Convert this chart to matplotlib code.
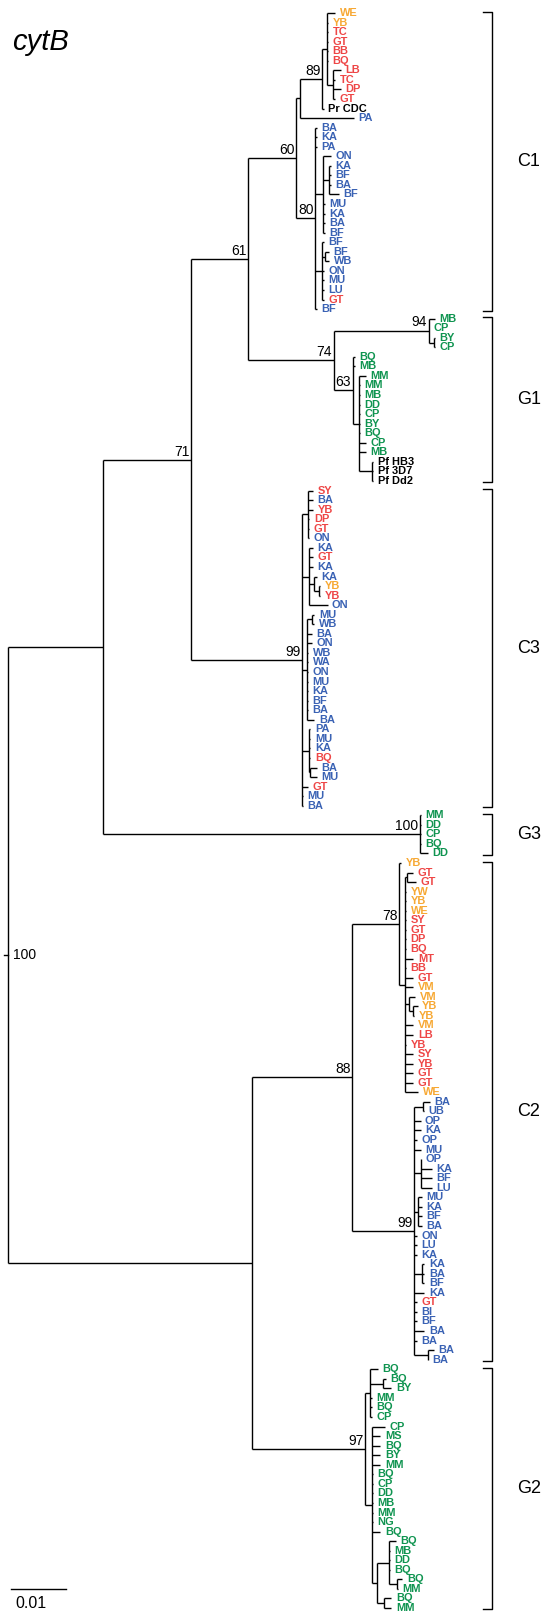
import matplotlib
matplotlib.use('Agg')
import matplotlib.pyplot as plt
from matplotlib.transforms import blended_transform_factory

### DATA ###
# cytB tree, branch lengths in substitutions/site, node labels = bootstrap support
C1 = ("((((WE:0.0015,YB:0.0002,TC:0.0002,GT:0.0002,BB:0.0002,BQ:0.0002,"
      "(LB:0.0015,TC:0.0004,DP:0.0015,GT:0.0004):0.0011):0.0009,Pr_CDC:0.0003)89:0.0040,PA:0.0098):0.0007,"
      "(BA:0.0002,KA:0.0002,PA:0.0002,"
      "(ON:0.0015,(KA:0.0004,BF:0.0004,BA:0.0004,BF:0.0018):0.0011,MU:0.0004,KA:0.0004,BA:0.0004,BF:0.0004):0.0013,"
      "(BF:0.0004,(BF:0.0007,WB:0.0007):0.0007,ON:0.0004,MU:0.0004,LU:0.0004,GT:0.0004):0.0011,"
      "BF:0.0002)80:0.0035)60:0.0087")
G1 = ("((MB:0.0011,CP:0.0001,(BY:0.0002,CP:0.0002):0.0009)94:0.0173,"
      "(BQ:0.0004,MB:0.0004,(MM:0.0013,MM:0.0002,MB:0.0002,DD:0.0002,CP:0.0002,BY:0.0002,BQ:0.0002,"
      "CP:0.0013,MB:0.0013,(Pf_HB3:0.0002,Pf_3D7:0.0002,Pf_Dd2:0.0002):0.0024):0.0011)63:0.0035)74:0.0155")
C3 = ("((SY:0.0009,BA:0.0009,YB:0.0009,DP:0.0002,GT:0.0002,ON:0.0002):0.0011,"
      "(KA:0.0007,GT:0.0007,KA:0.0007,(KA:0.0004,(YB:0.0002,YB:0.0002):0.0009):0.0009,ON:0.0033):0.0013,"
      "((MU:0.0004,WB:0.0004):0.0009,BA:0.0009,ON:0.0009,WB:0.0002,WA:0.0002,ON:0.0002,MU:0.0002,"
      "KA:0.0002,BF:0.0002,BA:0.0002,BA:0.0013):0.0009,"
      "(PA:0.0002,MU:0.0002,KA:0.0002,BQ:0.0002,(BA:0.0011,MU:0.0011):0.0002):0.0013,"
      "GT:0.0011,MU:0.0001,BA:0.0001)99:0.0202")
G3 = "(MM:0.0002,DD:0.0002,CP:0.0002,BQ:0.0002,DD:0.0015)100:0.0576"
C2 = ("((YB:0.0004,((GT:0.0011,GT:0.0016):0.0004,YW:0.0002,YB:0.0002,WE:0.0002,SY:0.0002,GT:0.0002,"
      "DP:0.0002,BQ:0.0002,MT:0.0015,BB:0.0002,GT:0.0015,VM:0.0015,"
      "(VM:0.0011,(YB:0.0009,YB:0.0002):0.0007):0.0007,VM:0.0015,LB:0.0015,YB:0.0002,SY:0.0015,"
      "YB:0.0015,GT:0.0015,GT:0.0015,WE:0.0024):0.0011)78:0.0085,"
      "((BA:0.0013,UB:0.0002):0.0015,OP:0.0011,KA:0.0011,OP:0.0004,MU:0.0011,"
      "(OP:0.0001,KA:0.0020,BF:0.0020,LU:0.0020):0.0011,(MU:0.0007,KA:0.0007,BF:0.0007,BA:0.0007):0.0007,"
      "ON:0.0004,LU:0.0004,KA:0.0004,(KA:0.0005,BA:0.0005,BF:0.0005):0.0013,KA:0.0018,"
      "GT:0.0004,BI:0.0004,BF:0.0004,BA:0.0018,BA:0.0004,(BA:0.0011,BA:0.0001):0.0024)99:0.0113)88:0.0182")
G2 = ("((BQ:0.0015,(BQ:0.0005,BY:0.0015):0.0024,MM:0.0004,BQ:0.0004,CP:0.0004):0.0009,"
      "(CP:0.0024,MS:0.0015,BQ:0.0015,BY:0.0015,MM:0.0015,BQ:0.0002,CP:0.0002,DD:0.0002,MB:0.0002,"
      "MM:0.0002,NG:0.0002,BQ:0.0015,((BQ:0.0013,MB:0.0002,DD:0.0002,BQ:0.0002,(BQ:0.0009,MM:0.0001):0.0015):0.0022,"
      "(BQ:0.0013,MM:0.0013):0.0013):0.0009):0.0013)97:0.0205")
TREE = f"(((({C1},{G1})61:0.0104,{C3})71:0.0160,{G3}):0.0173,({C2},{G2}):0.0444)100;"

# leaf colours top to bottom: o=orange, r=red, b=blue, g=green, k=black
LEAF_COLOURS = ("oo" + "r" * 8 + "kb" + "b" * 18 + "rb" + "g" * 15 + "kkk"
                + "rbrrrbbrbborb" + "b" * 15 + "rbbrbb" + "g" * 5
                + "orrooorrrrrrrooooorrrrrro" + "b" * 21 + "r" + "b" * 6 + "g" * 26)
COLOURS = {'o': '#F7A833', 'r': '#EE4646', 'b': '#3A62B4', 'g': '#0F9450', 'k': 'black'}

CLADES = ['C1', 'G1', 'C3', 'G3', 'C2', 'G2']
CLADE_FIRST = [0, 32, 50, 84, 89, 142]
CLADE_LAST = [31, 49, 83, 88, 141, 167]
SCALE_BAR = 0.01


def parse_newick(s):
    s = s.strip().rstrip(';')
    pos = 0

    def node():
        nonlocal pos
        n = {'children': [], 'name': '', 'length': 0.0}
        if s[pos] == '(':
            pos += 1
            while True:
                n['children'].append(node())
                if s[pos] == ',':
                    pos += 1
                else:
                    break
            pos += 1
        start = pos
        while pos < len(s) and s[pos] not in ':,)':
            pos += 1
        n['name'] = s[start:pos]
        if pos < len(s) and s[pos] == ':':
            pos += 1
            start = pos
            while pos < len(s) and s[pos] not in ',)':
                pos += 1
            n['length'] = float(s[start:pos])
        return n
    return node()


root = parse_newick(TREE)
leaves = []


def layout(n, depth):
    n['x'] = depth + n['length']
    if not n['children']:
        n['y'] = len(leaves)
        leaves.append(n)
    else:
        for c in n['children']:
            layout(c, n['x'])
        n['y'] = (n['children'][0]['y'] + n['children'][-1]['y']) / 2


layout(root, 0.0)
assert len(leaves) == len(LEAF_COLOURS), (len(leaves), len(LEAF_COLOURS))

### PLOT ###
W, H = 541, 1613
PX = 5500.0          # pixels per substitution/site
X0, Y0, DY = 8, 13, 9.551
fig = plt.figure(figsize=(W / 100, H / 100), dpi=100)
ax = fig.add_axes([0, 0, 1, 1])
ax.set_xlim(-X0 / PX, (W - X0) / PX)
ax.set_ylim((H - Y0) / DY, -Y0 / DY)
ax.axis('off')
plt.rcParams['font.family'] = ['Liberation Sans', 'DejaVu Sans']

lw = 1.0


def draw(n):
    if not n['children']:
        return
    ys = [c['y'] for c in n['children']]
    ax.plot([n['x'], n['x']], [ys[0], ys[-1]], color='black', lw=lw, solid_capstyle='butt')
    for c in n['children']:
        ax.plot([n['x'], c['x']], [c['y'], c['y']], color='black', lw=lw, solid_capstyle='butt')
        draw(c)
    if n['name'] and n is not root:
        ax.annotate(n['name'], (n['x'], n['y']), xytext=(-1.2, 0.8), textcoords='offset points',
                    ha='right', va='bottom', fontsize=10)


draw(root)
# root stem and support
ax.plot([root['x'] - 4 / PX, root['x']], [root['y'], root['y']], color='black', lw=lw)
ax.annotate(root['name'], (root['x'], root['y']), xytext=(3.5, 0), textcoords='offset points',
            ha='left', va='center', fontsize=10)

for leaf, code in zip(leaves, LEAF_COLOURS):
    ax.annotate(leaf['name'].replace('_', ' '), (leaf['x'], leaf['y']), xytext=(3.2, 0),
                textcoords='offset points', ha='left', va='center', fontsize=7.9,
                fontweight='bold', color=COLOURS[code])

# clade brackets
bt = blended_transform_factory(ax.transAxes, ax.transData)
bx, tick = 492 / W, 9 / W
for name, a, b in zip(CLADES, CLADE_FIRST, CLADE_LAST):
    y0, y1 = a - 0.15, b + 0.15
    ax.plot([bx - tick, bx, bx, bx - tick], [y0, y0, y1, y1], color='black', lw=lw, transform=bt)
    ax.text(517 / W, (y0 + y1) / 2, name, transform=bt, ha='left', va='center', fontsize=13)

# scale bar
st = blended_transform_factory(ax.transData, ax.transAxes)
sx = 3 / PX
ax.plot([sx, sx + SCALE_BAR], [24 / H, 24 / H], color='black', lw=lw, transform=st)
ax.text(sx + 4 / PX, 9 / H, f"{SCALE_BAR:g}", transform=st, ha='left', va='center', fontsize=11.5)

fig.text(12 / W, 1 - 42 / H, 'cytB', style='italic', fontsize=21, ha='left', va='center')

fig.savefig('out.png', dpi=100)
